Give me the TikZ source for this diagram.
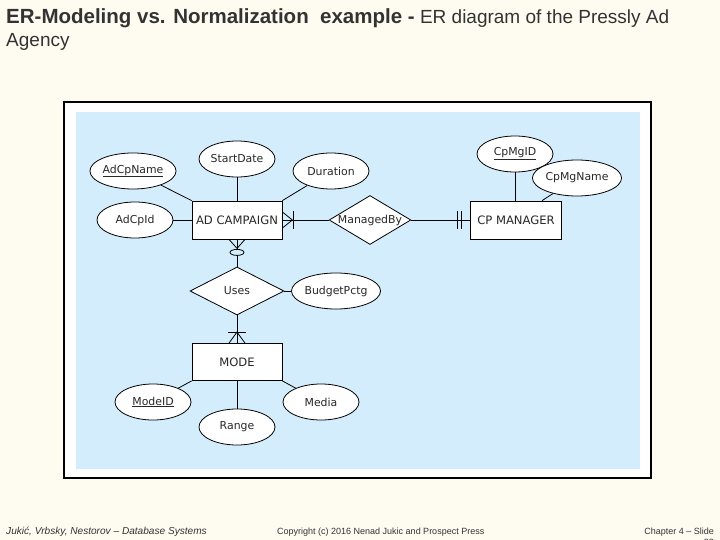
\documentclass[tikz,border=0pt]{standalone}
\usepackage{fontspec}
\setmainfont{Liberation Sans}
\newfontfamily\diafont{DejaVu Sans}
\usetikzlibrary{shapes.geometric,calc}
\definecolor{slidebg}{RGB}{254,252,240}
\definecolor{diabg}{RGB}{212,237,252}
\definecolor{txtgray}{RGB}{51,51,51}
\definecolor{diatxt}{RGB}{40,40,40}
\begin{document}
\begin{tikzpicture}[x=1pt,y=-1pt,
  entity/.style={draw=black,fill=white,line width=0.8pt,minimum width=90pt,minimum height=38pt,inner sep=0pt,font=\diafont\fontsize{11.6}{13}\selectfont,text=diatxt},
  attr/.style={draw=black,fill=white,line width=0.8pt,ellipse,minimum width=76pt,minimum height=36pt,inner sep=0pt,font=\diafont\fontsize{10.9}{13}\selectfont,text=diatxt},
  rel/.style={draw=black,fill=white,line width=0.8pt,diamond,inner sep=0pt,font=\diafont\fontsize{10.9}{13}\selectfont,text=diatxt},
  conn/.style={draw=black,line width=0.8pt},
  cardmark/.style={draw=black,line width=0.8pt}
]
\useasboundingbox (0,0) rectangle (720,540);
\fill[slidebg] (0,0) rectangle (720,540);
% title
\node[anchor=base west,inner sep=0pt,text=txtgray,font=\fontsize{19}{22}\selectfont] (title1) at (6,24) {{\fontsize{20.5}{22}\selectfont\bfseries ER-Modeling vs. Normalization\ \ example -} ER diagram of the Pressly Ad};
\node[anchor=base west,inner sep=0pt,text=txtgray,font=\fontsize{19}{22}\selectfont] (title2) at (6,46.5) {Agency};
% frame
\draw[fill=white,line width=1.2pt] (64,102) rectangle (651,478);
\fill[diabg] (76,112) rectangle (640,469);
% entities
\node[entity] (adc) at (237,220) {AD CAMPAIGN};
\node[entity,minimum width=91pt] (cpm) at (516,220) {CP MANAGER};
\node[entity,minimum height=37pt] (mode) at (237,362) {MODE};
% relationships
\node[rel,minimum width=80pt,minimum height=48pt,aspect=1.67] (mb) at (370,220) {ManagedBy};
\node[rel,minimum width=94pt,minimum height=48pt,aspect=1.96] (uses) at (237,291) {Uses};
% attributes
\node[attr] (adcpname) at (133,171) {\underline{AdCpName}};
\node[attr] (startdate) at (237,159) {StartDate};
\node[attr] (duration) at (331,171) {Duration};
\node[attr] (adcpid) at (135,220) {AdCpId};
\node[attr] (cpmgid) at (515,154) {\underline{CpMgID}};
\node[attr] (cpmgname) at (577,178) {CpMgName};
\node[attr] (budget) at (336,291) {BudgetPctg};
\node[attr] (modeid) at (153,402) {\underline{ModeID}};
\node[attr] (range) at (237,427) {Range};
\node[attr] (media) at (321,402) {Media};
% attribute connectors
\draw[conn] (adcpname) -- (adc.north west);
\draw[conn] (startdate) -- (adc.north);
\draw[conn] (duration) -- (adc.north east);
\draw[conn] (adcpid) -- (adc.west);
\draw[conn] (cpmgid) -- (cpmgid |- cpm.north);
\coordinate (cpmn) at ($(cpm.north west)+(72,0)$);
\draw[conn] (cpmgname) -- (cpmn);
\draw[conn] (budget) -- (uses.east);
\draw[conn] (modeid) -- (mode.south west);
\draw[conn] (range) -- (mode.south);
\draw[conn] (media) -- (mode.south east);
% relationship connectors
\draw[conn] (adc.east) -- (mb.west);
\draw[conn] (mb.east) -- (cpm.west);
\draw[conn] (adc.south) -- (uses.north);
\draw[conn] (uses.south) -- (mode.north);
% crow's foot at AD CAMPAIGN (ManagedBy side): mandatory many
\draw[cardmark] ($(adc.east)+(0,-8)$) -- ($(adc.east)+(10,0)$) -- ($(adc.east)+(0,8)$);
\draw[cardmark] ($(adc.east)+(11,-9)$) -- ($(adc.east)+(11,9)$);
% double bar at CP MANAGER: mandatory one
\draw[cardmark] ($(cpm.west)+(-13,-9)$) -- ($(cpm.west)+(-13,9)$);
\draw[cardmark] ($(cpm.west)+(-9,-9)$) -- ($(cpm.west)+(-9,9)$);
% crow's foot at AD CAMPAIGN bottom: optional many
\draw[cardmark] ($(adc.south)+(-8,0)$) -- ($(adc.south)+(0,9)$) -- ($(adc.south)+(8,0)$);
\draw[cardmark,fill=diabg] ($(adc.south)+(0,13)$) ellipse [x radius=7pt,y radius=3pt];
% crow's foot at MODE top: mandatory many
\draw[cardmark] ($(mode.north)+(-8,0)$) -- ($(mode.north)+(0,-11)$) -- ($(mode.north)+(8,0)$);
\draw[cardmark] ($(mode.north)+(-9,-11)$) -- ($(mode.north)+(9,-11)$);
% footer
\node[anchor=base west,inner sep=0pt,text=txtgray,font=\fontsize{10.1}{11}\selectfont\itshape] (foot1) at (6,534) {Juki\'c, Vrbsky, Nestorov -- Database Systems};
\node[anchor=base west,inner sep=0pt,text=txtgray,font=\fontsize{9}{10}\selectfont] (foot2) at (277,534) {Copyright (c) 2016 Nenad Jukic and Prospect Press};
\node[anchor=base east,inner sep=0pt,text=txtgray,font=\fontsize{9}{10}\selectfont] (foot3) at (714,534) {Chapter 4 -- Slide};
\node[anchor=base east,inner sep=0pt,text=txtgray,font=\fontsize{9}{10}\selectfont] (foot4) at (714,545) {22};
\end{tikzpicture}
\end{document}
